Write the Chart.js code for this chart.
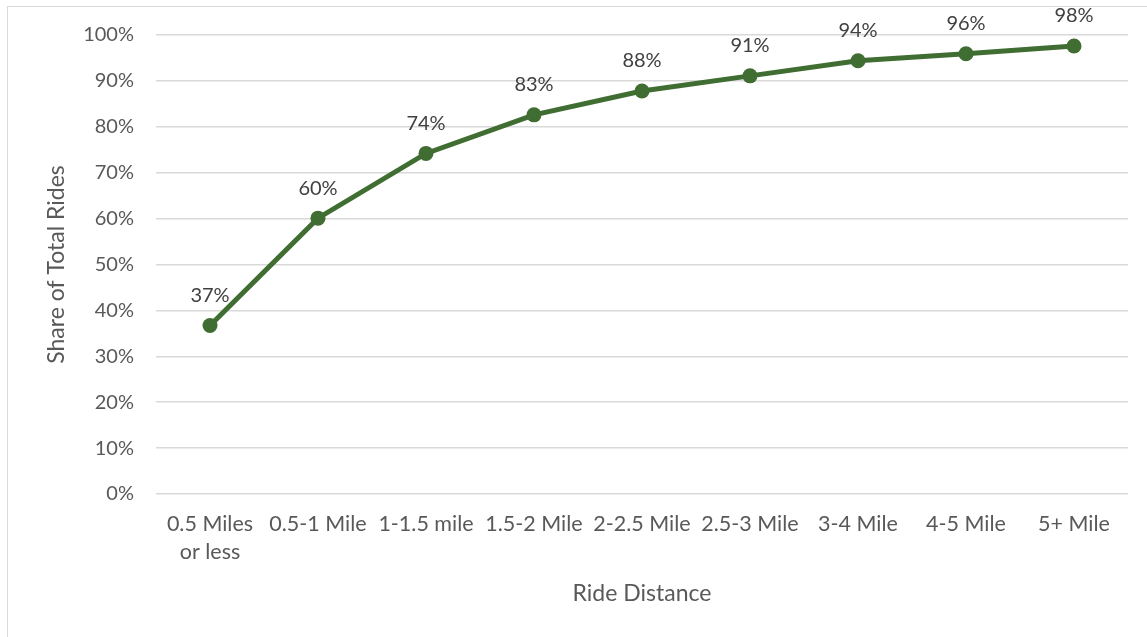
<!DOCTYPE html>
<html>
<head>
<meta charset="utf-8">
<script src="https://cdn.jsdelivr.net/npm/chart.js@4"></script>
<style>
  html, body { margin: 0; padding: 0; background: #fff; overflow: hidden; }
  #frame { position: absolute; left: 7px; top: 6px; width: 1160px; height: 660px; border: 1px solid #d9d9d9; }
  #wrap { position: absolute; left: 0; top: 0; width: 1147px; height: 637px; }
</style>
</head>
<body>
<div id="frame"></div>
<div id="wrap"><canvas id="ride_chart"></canvas></div>
<script>
// data
const distance_labels = [
  ["0.5 Miles", "or less"],
  "0.5-1 Mile",
  "1-1.5 mile",
  "1.5-2 Mile",
  "2-2.5 Mile",
  "2.5-3 Mile",
  "3-4 Mile",
  "4-5 Mile",
  "5+ Mile",
];
const share_values = [36.7, 60.1, 74.2, 82.6, 87.8, 91.1, 94.4, 95.9, 97.6];

const line_color = "#3f6d32";
const font_family = "Lato, 'Open Sans', sans-serif";

// labels above each point, like excel's data labels
const pointLabels = {
  id: "pointLabels",
  afterDatasetsDraw(chart) {
    const c = chart.ctx;
    const meta = chart.getDatasetMeta(0);
    c.save();
    c.font = "20px " + font_family;
    c.fillStyle = "#404040";
    c.textAlign = "center";
    c.textBaseline = "middle";
    meta.data.forEach((pt, i) => {
      c.fillText(Math.round(share_values[i]) + "%", pt.x, pt.y - 30);
    });
    c.restore();
  },
};

const ctx = document.getElementById("ride_chart").getContext("2d");
new Chart(ctx, {
  type: "line",
  data: {
    labels: distance_labels,
    datasets: [
      {
        data: share_values,
        borderColor: line_color,
        backgroundColor: line_color,
        borderWidth: 5,
        pointRadius: 7.5,
        pointBorderWidth: 0,
        pointHoverRadius: 7.5,
        fill: false,
        tension: 0,
      },
    ],
  },
  options: {
    responsive: true,
    maintainAspectRatio: false,
    animation: false,
    layout: { padding: { top: 35, right: 19, bottom: 0, left: 0 } },
    plugins: { legend: { display: false }, tooltip: { enabled: false } },
    scales: {
      x: {
        offset: true,
        grid: { display: false },
        border: { display: false },
        ticks: {
          color: "#595959",
          font: { family: font_family, size: 21.5, lineHeight: 1.3 },
          padding: 8,
          maxRotation: 0,
          autoSkip: false,
        },
        title: {
          display: true,
          text: "Ride Distance",
          color: "#595959",
          font: { family: font_family, size: 23 },
          padding: { top: 0, bottom: 30 },
        },
        afterFit(scale) {
          scale.height = 143;
        },
      },
      y: {
        min: 0,
        max: 100,
        grid: { color: "#d9d9d9", lineWidth: 1.5, drawTicks: false },
        border: { display: false },
        ticks: {
          stepSize: 10,
          color: "#595959",
          font: { family: font_family, size: 20 },
          padding: 22,
          callback: (v) => v + "%",
        },
        title: {
          display: true,
          text: "Share of Total Rides",
          color: "#595959",
          font: { family: font_family, size: 23 },
          padding: { top: 43, bottom: 0 },
        },
        afterFit(scale) {
          scale.width = 156;
        },
      },
    },
  },
  plugins: [pointLabels],
});
</script>
</body>
</html>
